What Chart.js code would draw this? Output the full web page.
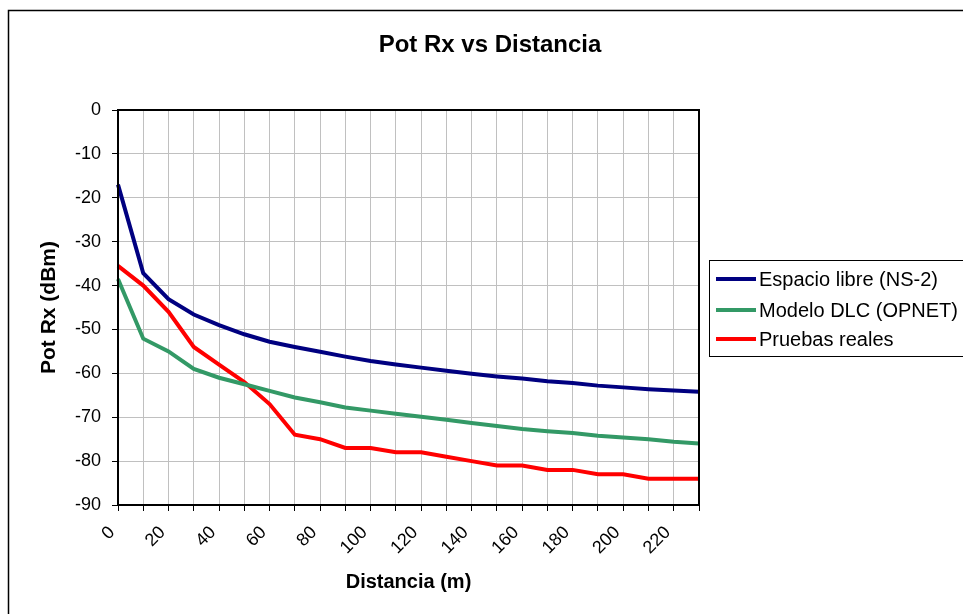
<!DOCTYPE html>
<html lang="es">
<head>
    <meta charset="UTF-8">
    <title>Pot Rx vs Distancia</title>
    <script src="https://cdn.jsdelivr.net/npm/chart.js"></script>
    <style>
        body {
            margin: 0;
            padding: 0;
            background-color: #fff;
        }
        #chartBox {
            width: 963px;
            height: 614px;
        }
    </style>
</head>
<body>

    <div id="chartBox">
        <canvas id="potChart" width="963" height="614"></canvas>
    </div>

    <script>
        // Distancias (m) del eje X
        const distancias = ['0', '10', '20', '30', '40', '50', '60', '70', '80', '90', '100', '110',
                            '120', '130', '140', '150', '160', '170', '180', '190', '200', '210', '220', '230'];

        // Potencia recibida (dBm)
        const espacioLibre = [-17, -37.2, -43.1, -46.6, -49.0, -51.1, -52.8, -54.0, -55.1, -56.2, -57.2, -58.0,
                              -58.7, -59.4, -60.1, -60.7, -61.2, -61.8, -62.2, -62.8, -63.2, -63.6, -63.9, -64.2];
        const modeloDLC = [-38.5, -52.1, -55.0, -59.0, -61.0, -62.5, -64.0, -65.5, -66.6, -67.8, -68.5, -69.2,
                           -69.9, -70.6, -71.3, -72.0, -72.7, -73.2, -73.6, -74.2, -74.6, -75.0, -75.6, -76.0];
        const pruebasReales = [-35.5, -40, -46, -54, -58, -62, -67, -74, -75, -77, -77, -78,
                               -78, -79, -80, -81, -81, -82, -82, -83, -83, -84, -84, -84];

        const yTicks = { min: -90, max: 0, step: 10 };

        Chart.defaults.font.family = '"Liberation Sans", Arial, sans-serif';
        Chart.defaults.color = '#000';

        // Marco, titulo, borde del area y leyenda al estilo Excel
        const excelDecor = {
            id: 'excelDecor',
            afterDraw(chart) {
                const ctx = chart.ctx;
                const area = chart.chartArea;
                ctx.save();

                // marco exterior
                ctx.strokeStyle = '#000';
                ctx.lineWidth = 1.5;
                ctx.strokeRect(8.5, 10.5, 1000, 1000);

                // borde del area de trazado
                ctx.lineWidth = 2;
                ctx.strokeRect(area.left, area.top, area.right - area.left, area.bottom - area.top);

                // titulo
                ctx.fillStyle = '#000';
                ctx.font = 'bold 24px "Liberation Sans", Arial, sans-serif';
                ctx.textAlign = 'center';
                ctx.textBaseline = 'middle';
                ctx.fillText('Pot Rx vs Distancia', 490, 45);

                // leyenda
                ctx.lineWidth = 1;
                ctx.fillStyle = '#fff';
                ctx.fillRect(709.5, 260.5, 300, 96);
                ctx.strokeRect(709.5, 260.5, 300, 96);
                ctx.font = '20px "Liberation Sans", Arial, sans-serif';
                ctx.textAlign = 'left';
                const rows = [279, 310, 339];
                chart.data.datasets.forEach((ds, i) => {
                    ctx.strokeStyle = ds.borderColor;
                    ctx.lineWidth = 4;
                    ctx.beginPath();
                    ctx.moveTo(716, rows[i]);
                    ctx.lineTo(756, rows[i]);
                    ctx.stroke();
                    ctx.fillStyle = '#000';
                    ctx.fillText(ds.label, 759, rows[i] + 1);
                });
                ctx.restore();
            }
        };

        const ctx = document.getElementById('potChart').getContext('2d');
        const potChart = new Chart(ctx, {
            type: 'line',
            data: {
                labels: distancias,
                datasets: [
                    {
                        label: 'Espacio libre (NS-2)',
                        data: espacioLibre,
                        borderColor: '#000080',
                        borderWidth: 4,
                        pointRadius: 0,
                        tension: 0
                    },
                    {
                        label: 'Modelo DLC (OPNET)',
                        data: modeloDLC,
                        borderColor: '#339966',
                        borderWidth: 4,
                        pointRadius: 0,
                        tension: 0
                    },
                    {
                        label: 'Pruebas reales',
                        data: pruebasReales,
                        borderColor: '#ff0000',
                        borderWidth: 4,
                        pointRadius: 0,
                        tension: 0
                    }
                ]
            },
            options: {
                responsive: false,
                animation: false,
                layout: {
                    padding: { left: 0, top: 110, right: 264, bottom: 0 }
                },
                plugins: {
                    legend: { display: false },
                    title: { display: false },
                    tooltip: { enabled: false }
                },
                scales: {
                    x: {
                        afterFit: (scale) => { scale.height = 109; },
                        grid: {
                            color: '#c0c0c0',
                            tickColor: '#000',
                            tickLength: 6
                        },
                        border: { color: '#000', width: 2 },
                        ticks: {
                            autoSkip: false,
                            maxRotation: 45,
                            minRotation: 45,
                            padding: 11,
                            labelOffset: -6,
                            font: { size: 18 },
                            callback: function(val, idx) {
                                return idx % 2 === 0 ? this.getLabelForValue(val) : '';
                            }
                        },
                        title: {
                            display: true,
                            text: 'Distancia (m)',
                            font: { size: 20, weight: 'bold' },
                            padding: { top: 0, bottom: 20 }
                        }
                    },
                    y: {
                        min: yTicks.min,
                        max: yTicks.max,
                        afterFit: (scale) => { scale.width = 118; },
                        grid: {
                            color: '#c0c0c0',
                            tickColor: '#000',
                            tickLength: 6
                        },
                        border: { color: '#000', width: 2 },
                        ticks: {
                            stepSize: yTicks.step,
                            padding: 11,
                            font: { size: 18 }
                        },
                        title: {
                            display: true,
                            text: 'Pot Rx (dBm)',
                            font: { size: 21, weight: 'bold' },
                            padding: { top: 37, bottom: 0 }
                        }
                    }
                }
            },
            plugins: [excelDecor]
        });
    </script>

</body>
</html>
